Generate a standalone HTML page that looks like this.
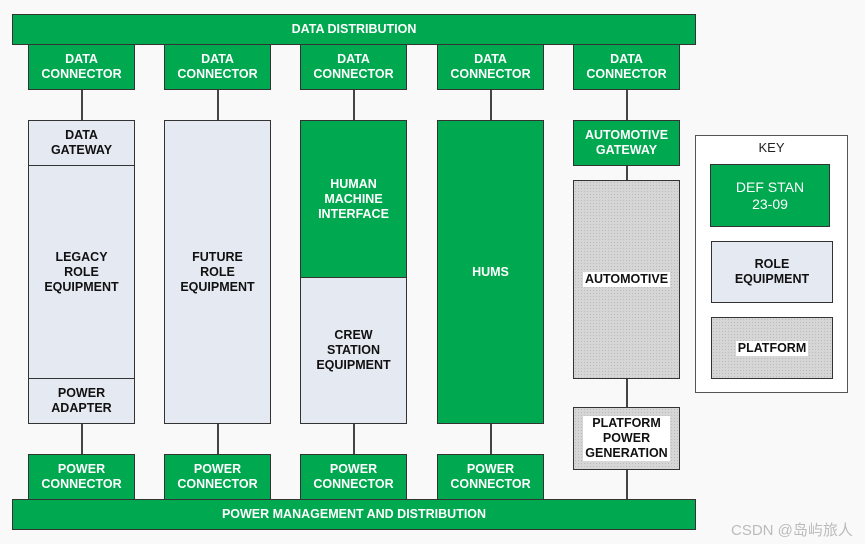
<!DOCTYPE html>
<html><head><meta charset="utf-8"><style>
body{margin:0;width:865px;height:544px;background:#f9f9f9;position:relative;overflow:hidden;font-family:"Liberation Sans",Arial,sans-serif}
.b{position:absolute;box-sizing:border-box;border:1.5px solid #333;display:flex;align-items:center;justify-content:center;text-align:center;font-weight:bold;font-size:12.5px;line-height:15px}
.g{background:#00a84f;color:#fff}
.r{background:#e5e9f2;color:#111}
.p{background:#d6d6d6;background-image:radial-gradient(#bbb 0.6px,transparent 0.8px);background-size:3px 3px;color:#111}
.p span{background:#fff;padding:0 2px}
.l{position:absolute;width:1.5px;background:#444}
</style></head><body>
<div class="b g" style="left:12px;top:14px;width:684px;height:31px">DATA DISTRIBUTION</div>
<div class="b g" style="left:12px;top:499px;width:684px;height:31px">POWER MANAGEMENT AND DISTRIBUTION</div>

<div class="b g" style="left:28px;top:44px;width:107px;height:46px">DATA<br>CONNECTOR</div>
<div class="b g" style="left:164px;top:44px;width:107px;height:46px">DATA<br>CONNECTOR</div>
<div class="b g" style="left:300px;top:44px;width:107px;height:46px">DATA<br>CONNECTOR</div>
<div class="b g" style="left:437px;top:44px;width:107px;height:46px">DATA<br>CONNECTOR</div>
<div class="b g" style="left:573px;top:44px;width:107px;height:46px">DATA<br>CONNECTOR</div>

<div class="l" style="left:81px;top:90px;height:30px"></div>
<div class="l" style="left:217px;top:90px;height:30px"></div>
<div class="l" style="left:353px;top:90px;height:30px"></div>
<div class="l" style="left:490px;top:90px;height:30px"></div>
<div class="l" style="left:626px;top:90px;height:30px"></div>

<div class="b r" style="left:28px;top:120px;width:107px;height:46px">DATA<br>GATEWAY</div>
<div class="b r" style="left:28px;top:165px;width:107px;height:214px">LEGACY<br>ROLE<br>EQUIPMENT</div>
<div class="b r" style="left:28px;top:378px;width:107px;height:46px">POWER<br>ADAPTER</div>

<div class="b r" style="left:164px;top:120px;width:107px;height:304px">FUTURE<br>ROLE<br>EQUIPMENT</div>

<div class="b g" style="left:300px;top:120px;width:107px;height:158px;align-items:flex-start;padding-top:56px">HUMAN<br>MACHINE<br>INTERFACE</div>
<div class="b r" style="left:300px;top:277px;width:107px;height:147px">CREW<br>STATION<br>EQUIPMENT</div>

<div class="b g" style="left:437px;top:120px;width:107px;height:304px">HUMS</div>

<div class="b g" style="left:573px;top:120px;width:107px;height:46px">AUTOMOTIVE<br>GATEWAY</div>
<div class="l" style="left:626px;top:166px;height:14px"></div>
<div class="b p" style="left:573px;top:180px;width:107px;height:199px"><span>AUTOMOTIVE</span></div>
<div class="l" style="left:626px;top:379px;height:28px"></div>
<div class="b p" style="left:573px;top:407px;width:107px;height:63px"><span>PLATFORM<br>POWER<br>GENERATION</span></div>
<div class="l" style="left:626px;top:470px;height:29px"></div>

<div class="l" style="left:81px;top:424px;height:30px"></div>
<div class="l" style="left:217px;top:424px;height:30px"></div>
<div class="l" style="left:353px;top:424px;height:30px"></div>
<div class="l" style="left:490px;top:424px;height:30px"></div>

<div class="b g" style="left:28px;top:454px;width:107px;height:46px">POWER<br>CONNECTOR</div>
<div class="b g" style="left:164px;top:454px;width:107px;height:46px">POWER<br>CONNECTOR</div>
<div class="b g" style="left:300px;top:454px;width:107px;height:46px">POWER<br>CONNECTOR</div>
<div class="b g" style="left:437px;top:454px;width:107px;height:46px">POWER<br>CONNECTOR</div>

<div style="position:absolute;left:695px;top:135px;width:153px;height:258px;box-sizing:border-box;border:1.5px solid #555;background:#fff"></div>
<div style="position:absolute;left:695px;top:140px;width:153px;text-align:center;font-size:13px;color:#222">KEY</div>
<div class="b g" style="left:710px;top:164px;width:120px;height:63px;font-weight:normal;font-size:14px;line-height:17px">DEF STAN<br>23-09</div>
<div class="b r" style="left:711px;top:241px;width:122px;height:62px">ROLE<br>EQUIPMENT</div>
<div class="b p" style="left:711px;top:317px;width:122px;height:62px"><span>PLATFORM</span></div>

<div style="position:absolute;left:731px;top:519px;font-size:15px;color:#bbb;font-family:'Liberation Sans','Noto Sans CJK SC',sans-serif">CSDN @岛屿旅人</div>
</body></html>
